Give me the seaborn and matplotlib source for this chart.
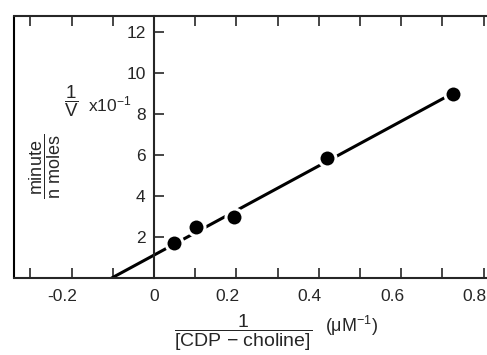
import numpy as np
import pandas as pd
import matplotlib
matplotlib.use("Agg")
import matplotlib.pyplot as plt
import matplotlib.transforms as mtransforms
import seaborn as sns

# Datos (Lineweaver-Burk)
inv_conc = [0.049, 0.102, 0.195, 0.42, 0.725]   # 1/[CDP-choline] (uM^-1)
inv_rate = [1.7, 2.5, 3.0, 5.85, 9.0]           # 1/V x10^-1

# recta de ajuste
fit_intercept = 1.12
fit_slope = 10.9
fit_x = [-0.103, 0.73]

x_ticks = [-0.3, -0.2, -0.1, 0, 0.1, 0.2, 0.3, 0.4, 0.5, 0.6, 0.7, 0.8]
x_labels = ["", "-0.2", "", "0", "", "0.2", "", "0.4", "", "0.6", "", "0.8"]
y_ticks = [2, 4, 6, 8, 10, 12]

sns.set_style("ticks")
plt.rcParams["font.family"] = ["Liberation Sans", "DejaVu Sans"]
plt.rcParams["mathtext.fontset"] = "custom"
plt.rcParams["mathtext.rm"] = "Liberation Sans"
plt.rcParams["mathtext.it"] = "Liberation Sans"
plt.rcParams["mathtext.default"] = "rm"

df = pd.DataFrame({"x": inv_conc, "y": inv_rate})
line_df = pd.DataFrame({"x": fit_x, "y": [fit_intercept + fit_slope * v for v in fit_x]})

fig = plt.figure(figsize=(4.87, 3.55), dpi=100)
ax = fig.add_axes([14 / 487, 1 - 278 / 355, 1.0 - 14 / 487 + 0.01, (278 - 16) / 355])

sns.lineplot(data=line_df, x="x", y="y", ax=ax, color="black", linewidth=2.2)
sns.scatterplot(data=df, x="x", y="y", ax=ax, color="black", s=150,
                edgecolor="white", linewidth=2.2, zorder=5)

ax.set_xlim(-0.34, 0.82)
ax.set_ylim(0, 12.8)

# eje y en x=0
ax.spines["left"].set_position(("data", 0))
ax.spines["right"].set_visible(False)
ax.axvline(-0.34, color="black", linewidth=1.5, clip_on=False)
for s in ["left", "top", "bottom"]:
    ax.spines[s].set_linewidth(1.5)

ax.set_xticks(x_ticks)
ax.set_xticklabels(x_labels)
ax.set_yticks(y_ticks)
ax.set_yticklabels([str(v) for v in y_ticks])
ax.tick_params(axis="x", direction="in", length=7, width=1.2, top=True,
               labelsize=12.5, pad=8)
ax.tick_params(axis="y", direction="in", length=7, width=1.2,
               labelsize=12.5, pad=6)
ax.set_xlabel("")
ax.set_ylabel("")

# etiquetas del eje x algo desplazadas a la izquierda, como en el original
shift = mtransforms.ScaledTranslation(-9 / 100, 0, fig.dpi_scale_trans)
for lab in ax.get_xticklabels():
    if lab.get_text() not in ("", "0"):
        lab.set_transform(lab.get_transform() + shift)

fig.text(71 / 487, 1 - 101 / 355, r"$\dfrac{1}{V}$", fontsize=13.5,
         ha="center", va="center")
fig.text(88 / 487, 1 - 104 / 355, r"x10$^{-1}$", fontsize=12.5,
         ha="left", va="center")
fig.text(45 / 487, 1 - 166 / 355, r"$\dfrac{\mathrm{minute}}{\mathrm{n\ moles}}$",
         fontsize=13, ha="center", va="center", rotation=90)
fig.text(243 / 487, 1 - 333 / 355, r"$\dfrac{1}{[\mathrm{CDP\ {-}\ choline}]}$",
         fontsize=14, ha="center", va="center")
fig.text(325 / 487, 1 - 326 / 355, r"$(\mu\mathrm{M}^{-1})$", fontsize=13,
         ha="left", va="center")

fig.savefig("out.png", dpi=100)
